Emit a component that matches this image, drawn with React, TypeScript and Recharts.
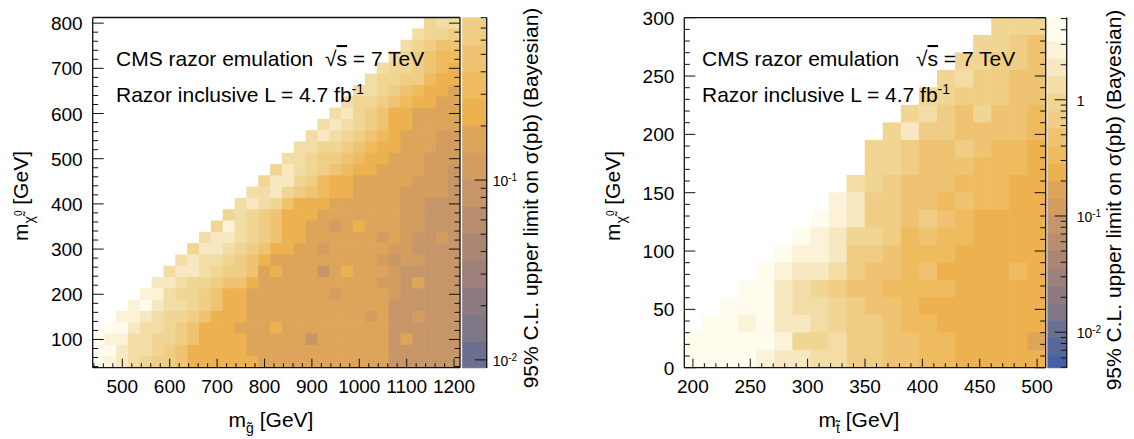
import React from "react";
import { ScatterChart, Scatter, XAxis, YAxis, ReferenceArea } from "recharts";

const FONT = '"Liberation Sans", Arial, Helvetica, sans-serif';
const W = 1134;
const H = 439;
const INK = "#111";

// z palette: band k covers log10(sigma/pb) in [0.5 - 0.15k, 0.65 - 0.15k], lightest first
const BAND_TOP = 0.65;
const BAND_STEP = 0.15;
const bandColors = [
  "#FFFCEE", "#FBF2D8", "#F7E8C2", "#F3DDA6", "#F1D592", "#F0CD84", "#EFC371",
  "#EEBB5E", "#EDB24F", "#DCA55A", "#D29D5F", "#C69669", "#B98E6F", "#AB8674",
  "#9D8079", "#8F7B7F", "#7F7686", "#6C6F8F", "#58689A", "#4660A5",
];

// ---- gluino / neutralino plane ----
const gluinoMass = [450, 475, 500, 525, 550, 575, 600, 625, 650, 675, 700, 725, 750, 775, 800, 825, 850, 875, 900, 925, 950, 975, 1000, 1025, 1050, 1075, 1100, 1125, 1150, 1175, 1200];
const lspMassG = [50, 75, 100, 125, 150, 175, 200, 225, 250, 275, 300, 325, 350, 375, 400, 425, 450, 475, 500, 525, 550, 575, 600, 625, 650, 675, 700, 725, 750, 775, 800];
// rows from the top (800 GeV) down: [first filled column, colour band per cell a=0,b=1,...]
const gluinoRows: [number, string][] = [
  [28, "edd"],
  [27, "deef"],
  [26, "defgg"],
  [25, "defghh"],
  [24, "deefghi"],
  [23, "deeffhii"],
  [22, "ddefghiij"],
  [21, "deefghiijj"],
  [20, "dcefgiijjjj"],
  [19, "dcdefgiijjjj"],
  [18, "dcdefghijjjkk"],
  [17, "ddeefghiijjjkk"],
  [16, "ddeffghiijjjkkk"],
  [15, "ecdefghiijjjjkkl"],
  [14, "eccefhiijjjjjkkkl"],
  [13, "ddcefghiijjjjkkkkl"],
  [12, "dcdegiiijjjjjjkklll"],
  [11, "edefgiiijjjjjjjkklll"],
  [10, "ebdefgiijjkjijjjkklll"],
  [9, "dccdefgiijjjjjjkjkllkl"],
  [8, "eccdefgiijjkjjjjjkkllll"],
  [7, "dcddefgijjjjjjjjjklkklll"],
  [6, "dccdeffgjijjjljijjjklllll"],
  [5, "ccdeefggijjjjjjjjjjkkljlll"],
  [4, "bbdeefgiijjjjjjjkjjjjklllll"],
  [3, "bacddefgiijjjjjjjjjjjjllllll"],
  [2, "bbcdeefgiiijjjjjjjjjjkjllklll"],
  [1, "aacddefgiiijjjijjjjjjjjjllllll"],
  [0, "abbddeefgiiiijjjjjljjjjjjljllll"],
  [0, "aacddefgiiiiijjjjjjjjjjjjllllll"],
  [0, "abcdeffgiiiiiijjjjjjjjjjjllllll"],
];

// ---- stop / neutralino plane ----
const stopMass = [200.4, 216.1, 231.9, 247.6, 263.4, 279.1, 294.9, 310.6, 326.4, 342.1, 357.9, 373.6, 389.4, 405.1, 420.9, 436.6, 452.4, 468.1, 483.9, 499.6];
const lspMassT = [7.5, 22.5, 37.5, 52.5, 67.5, 82.5, 97.5, 112.5, 127.5, 142.5, 157.5, 172.5, 187.5, 202.5, 217.5, 232.5, 247.5, 262.5, 277.5, 292.5];
const stopRows: [number, string][] = [
  [17, "eee"],
  [16, "eefg"],
  [15, "eeffg"],
  [14, "edffgg"],
  [13, "eefffgg"],
  [12, "edfgeggh"],
  [11, "ecffggggh"],
  [10, "eefggfghhi"],
  [10, "eefggghhhi"],
  [9, "defggghhhii"],
  [8, "bcffgghghhii"],
  [7, "abcffgfghiiii"],
  [6, "abceefhghhiiii"],
  [5, "abbcffghhhiiiii"],
  [4, "abccdfgghgiiiihi"],
  [3, "aacdefgghhhhiiiii"],
  [2, "aaacddefgghiiiiiii"],
  [1, "aabaccdeffghhiiiiii"],
  [0, "aaaaabeedffgghhiiiij"],
  [0, "aaaabccddffgghhiiiii"],
];

// ---- ticks ----
const gluinoMajor = [500, 600, 700, 800, 900, 1000, 1100, 1200];
const lspMajorG = [100, 200, 300, 400, 500, 600, 700, 800];
const stopMajor = [200, 250, 300, 350, 400, 450, 500];
const lspMajorT = [0, 50, 100, 150, 200, 250, 300];
const zMajorG = [0.01, 0.1];
const zMinorG = [0.02, 0.03, 0.04, 0.05, 0.06, 0.07, 0.08, 0.09, 0.2, 0.3, 0.4, 0.5, 0.6, 0.7, 0.8];
const zMajorT = [0.01, 0.1, 1];
const zMinorT = [0.005, 0.006, 0.007, 0.008, 0.009, 0.02, 0.03, 0.04, 0.05, 0.06, 0.07, 0.08, 0.09, 0.2, 0.3, 0.4, 0.5, 0.6, 0.7, 0.8, 0.9, 2, 3, 4, 5];

function steps(from: number, to: number, step: number) {
  const out: number[] = [];
  for (let v = from; v <= to + 1e-9; v += step) out.push(Math.round(v * 1000) / 1000);
  return out;
}

function bandValue(code: string) {
  const k = code.charCodeAt(0) - 97;
  return Math.pow(10, BAND_TOP - BAND_STEP * (k + 0.5));
}

function zColor(v: number) {
  const k = Math.floor((BAND_TOP - Math.log10(v)) / BAND_STEP);
  return bandColors[Math.max(0, Math.min(bandColors.length - 1, k))];
}

function buildCells(xs: number[], ys: number[], rows: [number, string][]) {
  const cells: { x: number; y: number; z: number }[] = [];
  rows.forEach(([start, codes], i) => {
    const y = ys[ys.length - 1 - i];
    for (let j = 0; j < codes.length && start + j < xs.length; j++) {
      cells.push({ x: xs[start + j], y, z: bandValue(codes[j]) });
    }
  });
  return cells;
}

type Side = "bottom" | "top" | "left" | "right";
type LabelFn = (x: number, y: number, v: number) => React.ReactNode;

function makeTick(side: Side, majors: number[], majorLen: number, minorLen: number, label?: LabelFn) {
  return (props: any) => {
    const { x, y, payload } = props;
    const v: number = payload.value;
    const isMajor = majors.some((m) => Math.abs(m - v) <= Math.abs(m) * 1e-6 + 1e-9);
    const len = isMajor ? majorLen : minorLen;
    let x2 = x;
    let y2 = y;
    if (side === "bottom") y2 = y - len;
    if (side === "top") y2 = y + len;
    if (side === "left") x2 = x + len;
    if (side === "right") x2 = x - len;
    return (
      <g>
        <line x1={x} y1={y} x2={x2} y2={y2} stroke={INK} strokeWidth={1} />
        {isMajor && label ? label(x, y, v) : null}
      </g>
    );
  };
}

const bottomLabel: LabelFn = (x, y, v) => (
  <text x={x} y={y + 25} textAnchor="middle" fontSize={19} fontFamily={FONT} fill="#000">{v}</text>
);
const leftLabel: LabelFn = (x, y, v) => (
  <text x={x - 10} y={y + 7} textAnchor="end" fontSize={19} fontFamily={FONT} fill="#000">{v}</text>
);
const zLabel = (gap: number): LabelFn => (x, y, v) => {
  const e = Math.round(Math.log10(v));
  return (
    <text x={x + gap} y={y + 6} textAnchor="start" fontSize={14} fontFamily={FONT} fill="#000">
      {e === 0 ? "1" : <>10<tspan dy={-5} fontSize={10}>{e}</tspan></>}
    </text>
  );
};

type Box = { left: number; top: number; right: number; bottom: number };

// every axis takes 1px, the margins subtract it so the plot box lands on `box`
function HeatPanel(p: {
  box: Box; xDomain: [number, number]; yDomain: [number, number]; xBin: number; yBin: number;
  cells: { x: number; y: number; z: number }[];
  xTicks: number[]; xMajor: number[]; yTicks: number[]; yMajor: number[];
}) {
  const { box } = p;
  const plotW = box.right - box.left;
  const plotH = box.bottom - box.top;
  const cw = (plotW * p.xBin) / (p.xDomain[1] - p.xDomain[0]);
  const ch = (plotH * p.yBin) / (p.yDomain[1] - p.yDomain[0]);
  const margin = { top: box.top - 1, left: box.left - 1, right: W - box.right - 1, bottom: H - box.bottom - 1 };
  const axisLine = { stroke: INK, strokeWidth: 1.3 };
  return (
    <div style={{ position: "absolute", left: 0, top: 0 }}>
      <ScatterChart width={W} height={H} margin={margin}>
        <Scatter
          data={p.cells}
          isAnimationActive={false}
          zIndex={100}
          shape={(s: any) => (
            <rect x={s.cx - cw / 2 - 0.3} y={s.cy - ch / 2 - 0.3} width={cw + 0.6} height={ch + 0.6} fill={zColor(s.payload.z)} />
          )}
        />
        <XAxis type="number" dataKey="x" domain={p.xDomain} allowDataOverflow ticks={p.xTicks} interval={0}
          height={1} tickSize={0} tickMargin={0} tickLine={false} axisLine={axisLine} zIndex={1000}
          tick={makeTick("bottom", p.xMajor, 9, 4.5, bottomLabel)} />
        <XAxis xAxisId="top" orientation="top" type="number" domain={p.xDomain} allowDataOverflow ticks={p.xTicks} interval={0}
          height={1} tickSize={0} tickMargin={0} tickLine={false} axisLine={axisLine} zIndex={1000}
          tick={makeTick("top", p.xMajor, 9, 4.5)} />
        <YAxis type="number" dataKey="y" domain={p.yDomain} allowDataOverflow ticks={p.yTicks} interval={0}
          width={1} tickSize={0} tickMargin={0} tickLine={false} axisLine={axisLine} zIndex={1000}
          tick={makeTick("left", p.yMajor, 11, 5.5, leftLabel)} />
        <YAxis yAxisId="right" orientation="right" type="number" domain={p.yDomain} allowDataOverflow ticks={p.yTicks} interval={0}
          width={1} tickSize={0} tickMargin={0} tickLine={false} axisLine={axisLine} zIndex={1000}
          tick={makeTick("right", p.yMajor, 11, 5.5)} />
      </ScatterChart>
    </div>
  );
}

function ColorBar(p: { box: Box; domain: [number, number]; major: number[]; minor: number[]; gap: number }) {
  const { box, domain } = p;
  const margin = { top: box.top, left: box.left, right: W - box.right - 1, bottom: H - box.bottom };
  const last = bandColors.length - 1;
  const bands = bandColors
    .map((color, k) => ({
      lo: k === last ? domain[0] : Math.pow(10, BAND_TOP - BAND_STEP * (k + 1)),
      hi: k === 0 ? domain[1] : Math.pow(10, BAND_TOP - BAND_STEP * k),
      color,
    }))
    .filter((b) => b.hi > domain[0] && b.lo < domain[1])
    .map((b) => ({ ...b, lo: Math.max(b.lo, domain[0]), hi: Math.min(b.hi, domain[1]) }));
  const ticks = [...p.major, ...p.minor].sort((a, b) => a - b);
  return (
    <div style={{ position: "absolute", left: 0, top: 0 }}>
      <ScatterChart width={W} height={H} margin={margin}>
        <XAxis type="number" dataKey="x" domain={[0, 1]} allowDataOverflow hide />
        {bands.map((b, i) => (
          <ReferenceArea key={i} x1={0} x2={1} y1={b.lo} y2={b.hi} fill={b.color} fillOpacity={1}
            stroke={b.color} strokeWidth={0.6} ifOverflow="visible" />
        ))}
        <YAxis type="number" dataKey="y" scale="log" domain={domain} allowDataOverflow orientation="right"
          ticks={ticks} interval={0} width={1} tickSize={0} tickMargin={0} tickLine={false}
          axisLine={{ stroke: INK, strokeWidth: 1.3 }} zIndex={1000}
          tick={makeTick("right", p.major, 12, 6, zLabel(p.gap))} />
      </ScatterChart>
    </div>
  );
}

function Titles() {
  const t = { fontFamily: FONT, fill: "#000" };
  const panel = (x0: number, sqrtX: number) => (
    <>
      <text x={x0} y={66} fontSize={21} {...t}>CMS razor emulation</text>
      <text x={sqrtX} y={66} fontSize={21} {...t}>
        √<tspan style={{ textDecoration: "overline" }}>s</tspan> = 7 TeV
      </text>
      <text x={x0} y={102} fontSize={21} {...t}>
        Razor inclusive L = 4.7 fb<tspan dy={-8} fontSize={14}>-1</tspan>
      </text>
    </>
  );
  const yTitle = (x: number) => (
    <text transform={`translate(${x},196) rotate(-90)`} textAnchor="middle" fontSize={21} {...t}>
      m<tspan fontSize={14} dy={6}>{"\u03C7\u0303"}</tspan><tspan fontSize={10} dy={-12}>0</tspan>
      <tspan fontSize={21} dy={6}> [GeV]</tspan>
    </text>
  );
  const zTitle = (x: number, y: number) => (
    <text transform={`translate(${x},${y}) rotate(-90)`} textAnchor="middle" fontSize={21} {...t}>
      95% C.L. upper limit on σ(pb) (Bayesian)
    </text>
  );
  return (
    <svg width={W} height={H} style={{ position: "absolute", left: 0, top: 0, pointerEvents: "none" }}>
      {panel(116, 325)}
      {panel(702, 916)}
      <text x={271} y={427} textAnchor="middle" fontSize={21} {...t}>
        m<tspan fontSize={14} dy={6}>{"g\u0303"}</tspan><tspan fontSize={21} dy={-6}> [GeV]</tspan>
      </text>
      <text x={859} y={427} textAnchor="middle" fontSize={21} {...t}>
        m<tspan fontSize={14} dy={6}>{"t\u0303"}</tspan><tspan fontSize={21} dy={-6}> [GeV]</tspan>
      </text>
      {yTitle(28)}
      {yTitle(620)}
      {zTitle(538, 198)}
      {zTitle(1121, 200)}
    </svg>
  );
}

export default function App() {
  const gluinoCells = buildCells(gluinoMass, lspMassG, gluinoRows);
  const stopCells = buildCells(stopMass, lspMassT, stopRows);
  return (
    <div style={{ position: "absolute", left: 0, top: 0, width: W, height: H, background: "#fff" }}>
      <HeatPanel
        box={{ left: 92.7, top: 17.5, right: 460, bottom: 367.7 }}
        xDomain={[437.5, 1212.5]} yDomain={[37.5, 812.5]} xBin={25} yBin={25}
        cells={gluinoCells}
        xTicks={steps(440, 1200, 20)} xMajor={gluinoMajor}
        yTicks={steps(40, 800, 20)} yMajor={lspMajorG}
      />
      <ColorBar box={{ left: 462.3, top: 17.5, right: 486.7, bottom: 367.9 }}
        domain={[0.00902, 0.8017]} major={zMajorG} minor={zMinorG} gap={6} />
      <HeatPanel
        box={{ left: 684.3, top: 17.7, right: 1045.7, bottom: 367.7 }}
        xDomain={[192.5, 507.5]} yDomain={[0, 300]} xBin={15.75} yBin={15}
        cells={stopCells}
        xTicks={steps(200, 500, 10)} xMajor={stopMajor}
        yTicks={steps(0, 300, 10)} yMajor={lspMajorT}
      />
      <ColorBar box={{ left: 1047.7, top: 17.5, right: 1066.7, bottom: 367.9 }}
        domain={[0.00493, 5.105]} major={zMajorT} minor={zMinorT} gap={10} />
      <Titles />
    </div>
  );
}
